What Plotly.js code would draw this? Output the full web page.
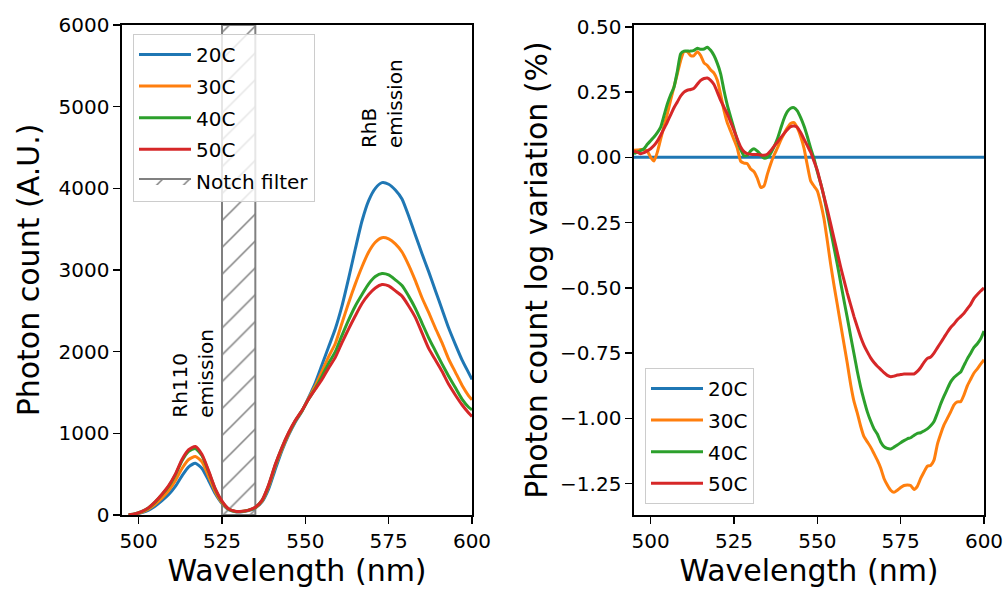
<!DOCTYPE html>
<html>
<head>
<meta charset="utf-8">
<script src="https://cdn.plot.ly/plotly-3.0.1.min.js"></script>
<style>html,body{margin:0;padding:0;background:#fff;}#chart{width:1008px;height:591px;}</style>
</head>
<body>
<div id="chart"></div>
<script>
// ---------- Left panel: photon counts ----------
const wlCount = [497,499,501,503,505,507,509,511,513,515,517,519,521,523,525,527,529,531,533,535,537,539,541,543,545,547,549,551,553,555,557,559,561,563,565,567,569,571,573,575,577,579,581,583,585,587,589,591,593,595,597,599,600];
const count20 = [0,10,30,60,110,175,250,350,480,590,634,570,420,260,140,65,40,40,55,85,160,320,560,790,980,1140,1270,1440,1620,1840,2060,2280,2560,2900,3260,3600,3850,4000,4070,4050,3980,3870,3660,3430,3200,2980,2750,2520,2290,2090,1900,1740,1660];
const count30 = [0,12,35,75,135,210,300,420,570,680,716,650,470,285,150,70,42,42,58,90,170,350,600,810,995,1150,1275,1430,1580,1760,1940,2100,2350,2600,2830,3040,3220,3340,3395,3380,3320,3220,3060,2870,2660,2480,2290,2110,1910,1750,1590,1460,1411];
const count40 = [0,15,43,88,160,250,350,490,665,780,815,725,530,315,165,73,44,44,59,93,178,365,615,825,1005,1155,1278,1420,1550,1700,1860,2000,2200,2390,2560,2700,2830,2920,2957,2940,2880,2810,2680,2530,2350,2170,2010,1850,1700,1560,1420,1320,1288];
const count50 = [0,15,45,90,165,255,360,500,680,800,838,740,540,320,170,75,45,45,60,95,180,370,620,830,1010,1160,1280,1420,1540,1660,1800,1930,2110,2280,2440,2590,2700,2780,2822,2805,2745,2680,2560,2420,2230,2040,1900,1760,1600,1470,1350,1250,1206];
const notchRange = [525, 535];
const notchLabel = 'Notch filter';

// ---------- Right panel: log variation (%) ----------
const wlVar = [495,496,497,498,499,500,501,502,503,504,505,506,507,508,509,510,511,512,513,514,515,516,517,518,519,520,521,522,523,524,525,526,527,528,529,530,531,532,533,534,535,536,537,538,539,540,541,542,543,544,545,546,547,548,549,550,551,552,553,554,555,556,557,558,559,560,561,562,563,564,565,566,567,568,569,570,571,572,573,574,575,576,577,578,579,580,581,582,583,584,585,586,587,588,589,590,591,592,593,594,595,596,597,598,599,600];
const var20x = [495, 600];
const var20 = [0, 0];
const var30 = [0.027,0.028,0.03,0.029,0.024,0.0,-0.014,0.02,0.07,0.12,0.167,0.22,0.27,0.32,0.371,0.405,0.405,0.39,0.39,0.405,0.39,0.362,0.352,0.335,0.323,0.295,0.24,0.18,0.132,0.1,0.068,0.035,-0.015,-0.022,-0.024,-0.045,-0.055,-0.08,-0.115,-0.11,-0.065,-0.025,0.008,0.035,0.065,0.09,0.113,0.13,0.133,0.113,0.08,0.035,-0.03,-0.09,-0.11,-0.128,-0.175,-0.235,-0.32,-0.41,-0.49,-0.565,-0.64,-0.715,-0.79,-0.87,-0.935,-0.98,-1.03,-1.07,-1.09,-1.11,-1.135,-1.16,-1.19,-1.23,-1.255,-1.275,-1.283,-1.275,-1.265,-1.257,-1.255,-1.257,-1.272,-1.26,-1.23,-1.205,-1.183,-1.18,-1.16,-1.1,-1.06,-1.025,-1.0,-0.975,-0.948,-0.937,-0.936,-0.91,-0.875,-0.85,-0.826,-0.81,-0.792,-0.775];
const var40 = [0.014,0.02,0.026,0.033,0.05,0.064,0.078,0.095,0.116,0.16,0.205,0.24,0.269,0.33,0.397,0.407,0.407,0.407,0.41,0.418,0.414,0.415,0.422,0.41,0.39,0.36,0.32,0.256,0.2,0.154,0.11,0.065,0.03,0.006,0.008,0.025,0.033,0.024,0.01,-0.003,0.0,0.015,0.04,0.07,0.11,0.148,0.175,0.188,0.19,0.178,0.152,0.12,0.08,0.035,-0.005,-0.055,-0.1,-0.152,-0.215,-0.28,-0.345,-0.41,-0.48,-0.548,-0.615,-0.685,-0.752,-0.82,-0.88,-0.93,-0.975,-1.01,-1.04,-1.06,-1.09,-1.108,-1.115,-1.117,-1.11,-1.102,-1.093,-1.085,-1.078,-1.074,-1.065,-1.057,-1.055,-1.048,-1.04,-1.028,-1.012,-0.98,-0.945,-0.915,-0.887,-0.86,-0.843,-0.832,-0.822,-0.797,-0.772,-0.75,-0.728,-0.714,-0.695,-0.665];
const var50 = [0.024,0.02,0.014,0.018,0.025,0.033,0.045,0.062,0.085,0.11,0.135,0.163,0.19,0.212,0.235,0.25,0.257,0.26,0.265,0.28,0.295,0.302,0.304,0.295,0.279,0.25,0.218,0.192,0.167,0.135,0.103,0.07,0.04,0.022,0.014,0.012,0.011,0.011,0.009,0.008,0.012,0.025,0.042,0.058,0.075,0.091,0.106,0.118,0.12,0.115,0.095,0.07,0.045,0.02,-0.015,-0.05,-0.1,-0.15,-0.2,-0.255,-0.31,-0.365,-0.42,-0.47,-0.52,-0.565,-0.61,-0.65,-0.688,-0.72,-0.745,-0.768,-0.786,-0.8,-0.812,-0.825,-0.835,-0.84,-0.838,-0.834,-0.832,-0.83,-0.83,-0.83,-0.83,-0.82,-0.805,-0.785,-0.77,-0.765,-0.75,-0.73,-0.71,-0.69,-0.67,-0.652,-0.638,-0.622,-0.61,-0.597,-0.58,-0.563,-0.54,-0.525,-0.512,-0.5];

const seriesNames = ['20C', '30C', '40C', '50C'];
const colors = ['#1f77b4', '#ff7f0e', '#2ca02c', '#d62728'];
const xTicks = [500, 525, 550, 575, 600];
const countTicks = [0, 1000, 2000, 3000, 4000, 5000, 6000];
const varTicks = [-1.25, -1.0, -0.75, -0.5, -0.25, 0, 0.25, 0.5];

const FONT = 'DejaVu Sans, sans-serif';
const traces = [];

// notch filter band (hatched)
traces.push({
  x: [notchRange[0], notchRange[1], notchRange[1], notchRange[0], notchRange[0]],
  y: [0, 0, 6000, 6000, 0],
  xaxis: 'x', yaxis: 'y',
  mode: 'lines', fill: 'toself',
  fillcolor: 'rgba(0,0,0,0)',
  fillpattern: {shape: '/', fgcolor: 'gray', bgcolor: 'rgba(0,0,0,0)', size: 19, solidity: 0.08},
  line: {color: 'gray', width: 2},
  name: notchLabel, legend: 'legend', legendrank: 5, legendgroup: 'Lnotch', hoverinfo: 'skip'
});

const counts = [count20, count30, count40, count50];
counts.forEach((c, i) => {
  traces.push({
    x: wlCount, y: c, xaxis: 'x', yaxis: 'y', mode: 'lines',
    line: {color: colors[i], width: 3, shape: 'spline', smoothing: 0.6},
    name: seriesNames[i], legend: 'legend', legendrank: i + 1, legendgroup: 'L' + i
  });
});

traces.push({
  x: var20x, y: var20, xaxis: 'x2', yaxis: 'y2', mode: 'lines',
  line: {color: colors[0], width: 3}, name: seriesNames[0], legend: 'legend2', legendrank: 1, legendgroup: 'R0'
});
[var30, var40, var50].forEach((v, i) => {
  traces.push({
    x: wlVar, y: v, xaxis: 'x2', yaxis: 'y2', mode: 'lines',
    line: {color: colors[i + 1], width: 3, shape: 'spline', smoothing: 0.5},
    name: seriesNames[i + 1], legend: 'legend2', legendrank: i + 2, legendgroup: 'R' + (i + 1)
  });
});

const W = 1008, H = 591;
function axisCommon() {
  return {
    showgrid: false, zeroline: false, showline: true, mirror: true,
    linecolor: 'black', linewidth: 1.6,
    ticks: 'outside', ticklen: 7, tickwidth: 1.6, tickcolor: 'black',
    tickfont: {family: FONT, size: 20, color: 'black'},
    automargin: false
  };
}

const legendCommon = {
  bgcolor: 'rgba(255,255,255,0.8)', bordercolor: '#cccccc', borderwidth: 1,
  font: {family: FONT, size: 20, color: 'black'}, tracegroupgap: 2.6, itemwidth: 52
};

const layout = {
  width: W, height: H,
  margin: {l: 0, r: 0, t: 0, b: 0},
  paper_bgcolor: 'white', plot_bgcolor: 'white',
  font: {family: FONT, color: 'black'},
  showlegend: true,
  xaxis: Object.assign(axisCommon(), {
    domain: [122 / W, 472 / W], anchor: 'y', range: [495, 600],
    tickvals: xTicks, ticktext: xTicks.map(String),
    title: {text: 'Wavelength (nm)', font: {family: FONT, size: 30, color: 'black'}, standoff: 8}
  }),
  yaxis: Object.assign(axisCommon(), {
    domain: [1 - 515 / H, 1 - 25 / H], anchor: 'x', range: [0, 6000],
    tickvals: countTicks, ticktext: countTicks.map(String),
    title: {text: 'Photon count (A.U.)', font: {family: FONT, size: 30, color: 'black'}, standoff: 10}
  }),
  xaxis2: Object.assign(axisCommon(), {
    domain: [634 / W, 984 / W], anchor: 'y2', range: [495, 600],
    tickvals: xTicks, ticktext: xTicks.map(String),
    title: {text: 'Wavelength (nm)', font: {family: FONT, size: 30, color: 'black'}, standoff: 8}
  }),
  yaxis2: Object.assign(axisCommon(), {
    domain: [1 - 515 / H, 1 - 25 / H], anchor: 'x2', range: [-1.37, 0.507],
    tickvals: varTicks, tickformat: '.2f',
    title: {text: 'Photon count log variation (%)', font: {family: FONT, size: 30, color: 'black'}, standoff: 3}
  }),
  legend: Object.assign({}, legendCommon, {
    x: 133 / W, y: 1 - 34 / H, xanchor: 'left', yanchor: 'top'
  }),
  legend2: Object.assign({}, legendCommon, {
    x: 645 / W, y: 1 - 504 / H, xanchor: 'left', yanchor: 'bottom'
  }),
  annotations: [
    {x: 516.3, y: 1730, xref: 'x', yref: 'y', text: 'Rh110<br>emission', textangle: -90,
     showarrow: false, align: 'left', font: {family: FONT, size: 20, color: 'black'}},
    {x: 573.2, y: 5040, xref: 'x', yref: 'y', text: 'RhB<br>emission', textangle: -90,
     showarrow: false, align: 'left', font: {family: FONT, size: 20, color: 'black'}}
  ]
};

Plotly.newPlot('chart', traces, layout, {displayModeBar: false, staticPlot: true});
</script>
</body>
</html>
